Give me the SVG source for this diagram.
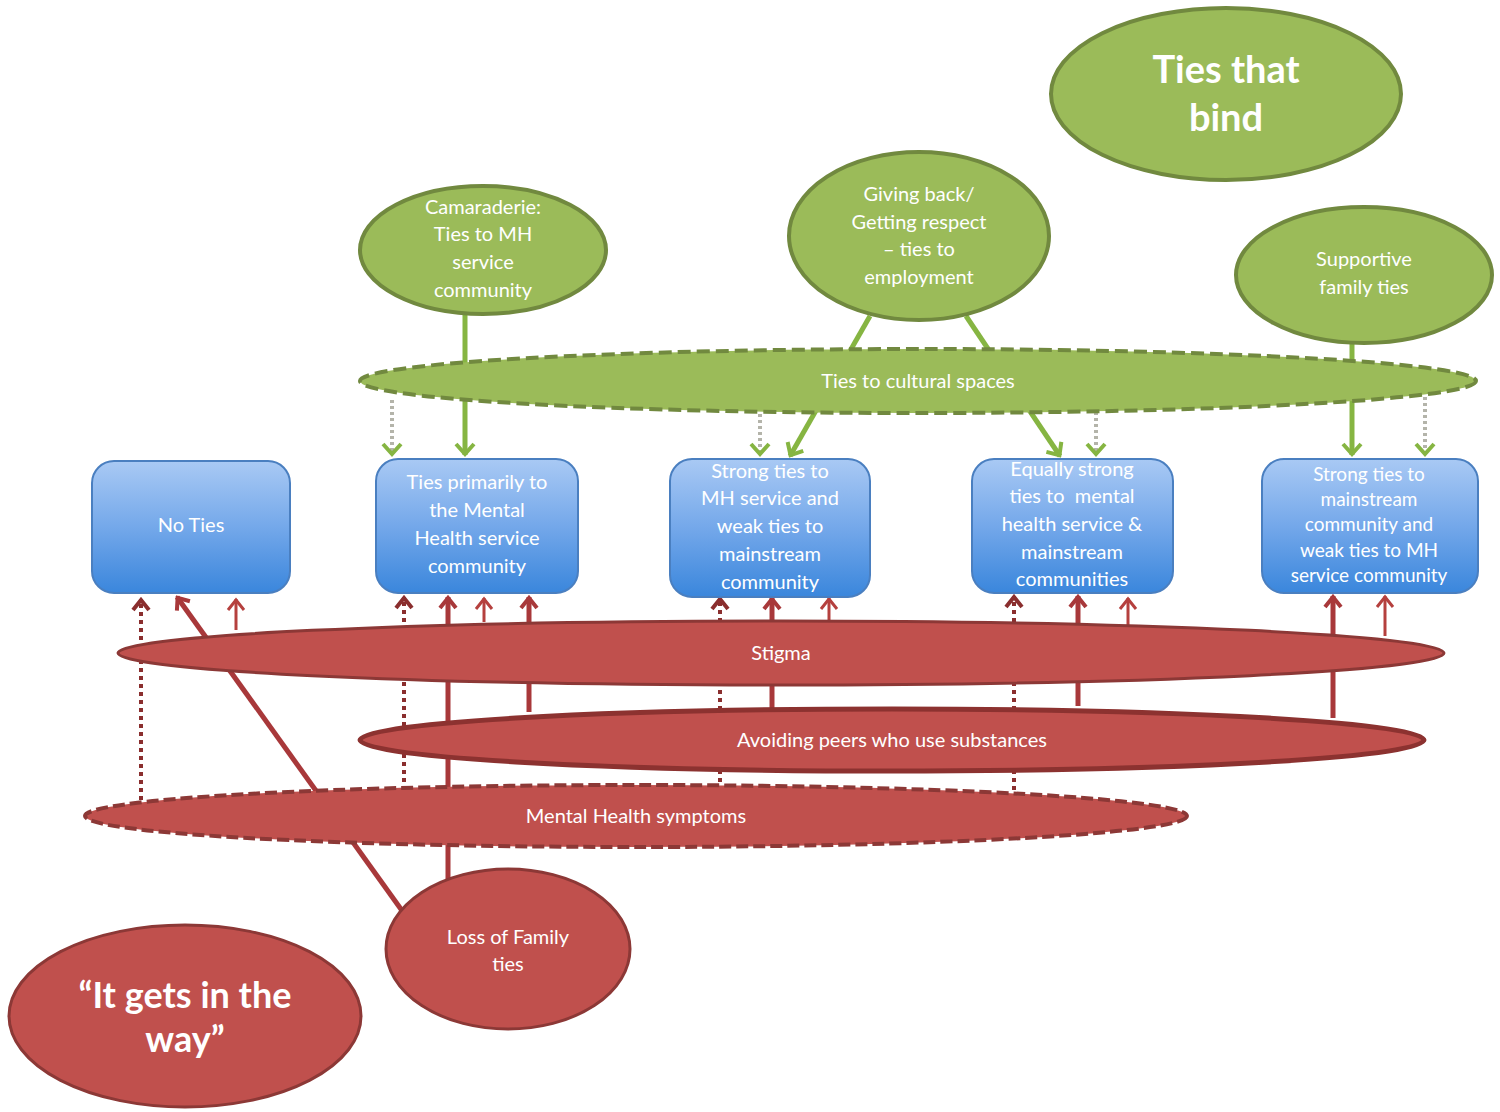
<svg xmlns="http://www.w3.org/2000/svg" width="1500" height="1112" viewBox="0 0 1500 1112">
<defs>
<linearGradient id="blue" x1="0" y1="0" x2="0" y2="1">
<stop offset="0" stop-color="#a9c9f4"/>
<stop offset="0.5" stop-color="#74a8ea"/>
<stop offset="1" stop-color="#3a86dc"/>
</linearGradient>
<marker id="ga" viewBox="-14 -11 16 22" markerWidth="16" markerHeight="22" refX="0" refY="0" orient="auto" markerUnits="userSpaceOnUse"><path d="M-11,-9 L-1,0 L-11,9" fill="none" stroke="#86b542" stroke-width="4"/></marker>
<marker id="rt" viewBox="-14 -11 16 22" markerWidth="16" markerHeight="22" refX="0" refY="0" orient="auto" markerUnits="userSpaceOnUse"><path d="M-11,-8 L-1,0 L-11,8" fill="none" stroke="#b5403e" stroke-width="3"/></marker>
<marker id="rk" viewBox="-14 -11 16 22" markerWidth="16" markerHeight="22" refX="0" refY="0" orient="auto" markerUnits="userSpaceOnUse"><path d="M-11,-8 L-1,0 L-11,8" fill="none" stroke="#a8383a" stroke-width="4"/></marker>
<marker id="rd" viewBox="-14 -11 16 22" markerWidth="16" markerHeight="22" refX="0" refY="0" orient="auto" markerUnits="userSpaceOnUse"><path d="M-11,-8 L-1,0 L-11,8" fill="none" stroke="#8a2e2e" stroke-width="4"/></marker>
</defs>
<style>
.g{fill:#9bbb59;stroke:#71893f;stroke-width:4}
.gd{fill:#9bbb59;stroke:#71893f;stroke-width:4;stroke-dasharray:13 6}
.r{fill:#c0504d;stroke:#8c3836;stroke-width:3}
.ra{fill:#c0504d;stroke:#8c3230;stroke-width:5}
.rdsh{fill:#c0504d;stroke:#8c3836;stroke-width:4;stroke-dasharray:12 5}
.b{fill:url(#blue);stroke:#4a7fc0;stroke-width:2}
.t{font-family:Lato,"Liberation Sans",sans-serif;fill:#ffffff;font-size:20px;text-anchor:middle}
.tb{font-family:Lato,"Liberation Sans",sans-serif;fill:#ffffff;font-size:38px;font-weight:bold;text-anchor:middle}
.gl{stroke:#86b542;stroke-width:5;fill:none;marker-end:url(#ga)}
.gdl{stroke:#b4b4aa;stroke-width:4;stroke-dasharray:3 3;fill:none;marker-end:url(#ga)}
.rl{stroke:#b5403e;stroke-width:3;fill:none;marker-end:url(#rt)}
.rkl{stroke:#a8383a;stroke-width:5;fill:none;marker-end:url(#rk)}
.rdl{stroke:#8a2e2e;stroke-width:4;stroke-dasharray:4 4;fill:none;marker-end:url(#rd)}
</style>
<rect width="1500" height="1112" fill="#ffffff"/>
<g id="connectors">
<path class="gl" d="M465,313 L465,455"/>
<path class="gl" d="M870,316 L790,456"/>
<path class="gl" d="M966,316 L1060,456"/>
<path class="gl" d="M1352,344 L1352,455"/>
<path class="gdl" d="M392,400 L392,455"/>
<path class="gdl" d="M760,414 L760,455"/>
<path class="gdl" d="M1096,412 L1096,455"/>
<path class="gdl" d="M1425,397 L1425,455"/>
<path class="rdl" d="M141,800 L141,599"/>
<path class="rkl" d="M403,912 L177,597"/>
<path class="rl" d="M236,630 L236,599"/>
<path class="rdl" d="M404,790 L404,597"/>
<path class="rkl" d="M448,882 L448,597"/>
<path class="rl" d="M484,622 L484,598"/>
<path class="rkl" d="M529,712 L529,597"/>
<path class="rdl" d="M720,790 L720,598"/>
<path class="rkl" d="M772,712 L772,598"/>
<path class="rl" d="M829,622 L829,598"/>
<path class="rdl" d="M1014,790 L1014,596"/>
<path class="rkl" d="M1078,706 L1078,596"/>
<path class="rl" d="M1128,625 L1128,598"/>
<path class="rkl" d="M1333,718 L1333,596"/>
<path class="rl" d="M1385,636 L1385,596"/>
</g>
<g id="ties-that-bind"><ellipse class="g" cx="1226" cy="94" rx="175" ry="86"/><text class="tb" x="1226" y="83">Ties that</text><text class="tb" x="1226" y="131">bind</text></g>
<g id="camaraderie"><ellipse class="g" cx="483" cy="250" rx="123" ry="64"/><text class="t" x="483" y="214">Camaraderie:</text><text class="t" x="483" y="241">Ties to MH</text><text class="t" x="483" y="269">service</text><text class="t" x="483" y="297">community</text></g>
<g id="giving-back"><ellipse class="g" cx="919" cy="236" rx="130" ry="84"/><text class="t" x="919" y="201">Giving back/</text><text class="t" x="919" y="229">Getting respect</text><text class="t" x="919" y="256">– ties to</text><text class="t" x="919" y="284">employment</text></g>
<g id="supportive-family"><ellipse class="g" cx="1364" cy="275" rx="128" ry="68"/><text class="t" x="1364" y="266">Supportive</text><text class="t" x="1364" y="294">family ties</text></g>
<g id="cultural-spaces"><ellipse class="gd" cx="918" cy="381" rx="558" ry="32"/><text class="t" x="918" y="388">Ties to cultural spaces</text></g>
<g id="no-ties"><rect class="b" x="92" y="461" width="198" height="132" rx="22"/><text class="t" x="191" y="532">No Ties</text></g>
<g id="ties-primarily"><rect class="b" x="376" y="459" width="202" height="134" rx="22"/><text class="t" x="477" y="489">Ties primarily to</text><text class="t" x="477" y="517">the Mental</text><text class="t" x="477" y="545">Health service</text><text class="t" x="477" y="573">community</text></g>
<g id="strong-mh"><rect class="b" x="670" y="459" width="200" height="138" rx="22"/><text class="t" x="770" y="478">Strong ties to</text><text class="t" x="770" y="505">MH service and</text><text class="t" x="770" y="533">weak ties to</text><text class="t" x="770" y="561">mainstream</text><text class="t" x="770" y="589">community</text></g>
<g id="equally-strong"><rect class="b" x="972" y="459" width="201" height="134" rx="22"/><text class="t" x="1072" y="476">Equally strong</text><text class="t" x="1072" y="503" xml:space="preserve">ties to  mental</text><text class="t" x="1072" y="531">health service &amp;</text><text class="t" x="1072" y="559">mainstream</text><text class="t" x="1072" y="586">communities</text></g>
<g id="strong-mainstream"><rect class="b" x="1262" y="459" width="216" height="134" rx="22"/><text class="t" x="1369" y="481" style="font-size:19px">Strong ties to</text><text class="t" x="1369" y="506" style="font-size:19px">mainstream</text><text class="t" x="1369" y="531" style="font-size:19px">community and</text><text class="t" x="1369" y="557" style="font-size:19px">weak ties to MH</text><text class="t" x="1369" y="582" style="font-size:19px">service community</text></g>
<g id="stigma"><ellipse class="r" cx="781" cy="653" rx="663" ry="32"/><text class="t" x="781" y="660">Stigma</text></g>
<g id="avoiding-peers"><ellipse class="ra" cx="892" cy="740" rx="532" ry="31"/><text class="t" x="892" y="747">Avoiding peers who use substances</text></g>
<g id="mh-symptoms"><ellipse class="rdsh" cx="636" cy="816" rx="551" ry="31"/><text class="t" x="636" y="823">Mental Health symptoms</text></g>
<g id="loss-family"><ellipse class="r" cx="508" cy="949" rx="122" ry="80"/><text class="t" x="508" y="944">Loss of Family</text><text class="t" x="508" y="971">ties</text></g>
<g id="gets-in-way"><ellipse class="r" cx="185" cy="1016" rx="176" ry="91"/><text class="tb" x="185" y="1008" style="font-size:36px">“It gets in the</text><text class="tb" x="185" y="1052" style="font-size:36px">way”</text></g>
</svg>
